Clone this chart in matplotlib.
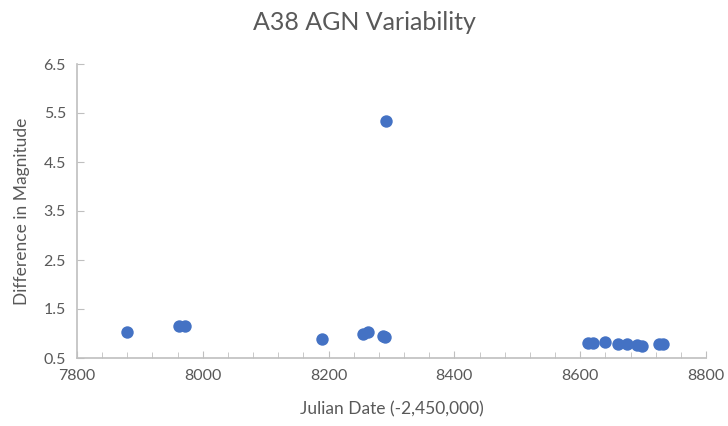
import numpy as np
import matplotlib
matplotlib.use("Agg")
import matplotlib.pyplot as plt
from matplotlib.ticker import MultipleLocator

# Julian date (-2,450,000) and magnitude difference
jd = [7879, 7962, 7971, 8190, 8254, 8262, 8286, 8290, 8292,
      8613, 8621, 8640, 8660, 8675, 8690, 8698, 8725, 8732]
dmag = [1.03, 1.15, 1.15, 0.89, 0.99, 1.03, 0.95, 0.93, 5.34,
        0.81, 0.81, 0.82, 0.78, 0.78, 0.76, 0.74, 0.78, 0.79]

plt.rcParams['font.family'] = ['Lato', 'DejaVu Sans']
txt = '#595959'
grey = '#BFBFBF'

fig = plt.figure(figsize=(7.28, 4.26), dpi=100)
ax = fig.add_axes([77/728, 68/426, 629/728, 294/426])

ax.scatter(jd, dmag, s=80, color='#4472C4', zorder=3, linewidths=0)

ax.set_xlim(7800, 8800)
ax.set_ylim(0.5, 6.5)
ax.xaxis.set_major_locator(MultipleLocator(200))
ax.xaxis.set_minor_locator(MultipleLocator(40))
ax.set_yticks(np.arange(0.5, 6.6, 1.0))
ax.set_yticklabels(['%.1f' % v for v in np.arange(0.5, 6.6, 1.0)])

for s in ['top', 'right']:
    ax.spines[s].set_visible(False)
for s in ['left', 'bottom']:
    ax.spines[s].set_color(grey)
    ax.spines[s].set_linewidth(1.2)

ax.tick_params(axis='both', which='both', direction='in', colors=grey,
               labelcolor=txt, labelsize=11.5)
ax.tick_params(axis='both', which='major', length=5, pad=8)
ax.tick_params(axis='x', which='minor', length=4)

fig.suptitle('A38 AGN Variability', fontsize=18, color=txt, x=0.5, y=0.975)
ax.set_xlabel('Julian Date (-2,450,000)', fontsize=12.5, color=txt, labelpad=13)
ax.set_ylabel('Difference in Magnitude', fontsize=12.5, color=txt, labelpad=10)

fig.savefig('out.png', dpi=100)
